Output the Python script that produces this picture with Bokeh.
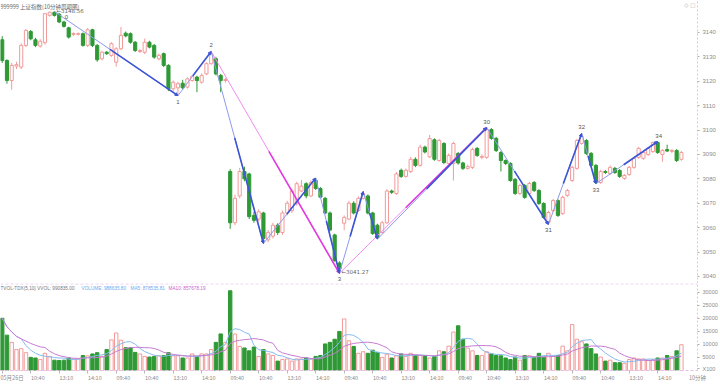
import numpy as np
import pandas as pd
from bokeh.plotting import figure
from bokeh.layouts import column
from bokeh.models import Range1d, FixedTicker, Label, Span, ColumnDataSource, Arrow, NormalHead
from bokeh.embed import file_html
from bokeh.resources import INLINE
from bokeh.core.properties import value

# ---------------- data (10-minute bars, 上证指数) ----------------
open_ = [3137.0, 3128.5, 3120.3, 3126.2, 3125.8, 3134.7, 3140.4, 3137.0, 3134.4, 3135.8,
         3147.0, 3148.3, 3147.5, 3144.3, 3141.9, 3139.2, 3139.2, 3139.5, 3134.7, 3141.1,
         3134.7, 3129.2, 3131.9, 3130.6, 3127.8, 3133.3, 3139.7, 3139.5, 3136.0, 3132.2,
         3131.9, 3136.0, 3134.7, 3129.2, 3131.3, 3126.5, 3116.9, 3117.3, 3119.2, 3117.6,
         3120.3, 3121.7, 3119.6, 3123.0, 3127.2, 3129.2, 3122.4, 3120.3, 3083.0, 3062.0,
         3073.0, 3083.0, 3082.0, 3065.0, 3063.5, 3066.0, 3055.0, 3056.5, 3061.0, 3058.0,
         3066.0, 3067.0, 3070.0, 3075.0, 3078.0, 3073.0, 3079.4, 3076.0, 3072.0, 3066.0,
         3057.0, 3045.5, 3061.8, 3063.5, 3070.0, 3067.0, 3072.0, 3073.0, 3066.0, 3061.0,
         3058.0, 3062.0, 3075.0, 3074.0, 3083.5, 3081.0, 3083.0, 3088.0, 3085.5, 3093.0,
         3089.0, 3096.0, 3087.5, 3094.5, 3086.3, 3086.3, 3090.4, 3086.5, 3084.3, 3084.7,
         3092.5, 3088.8, 3088.8, 3100.2, 3096.6, 3090.8, 3087.5, 3086.3, 3079.8, 3074.0,
         3077.3, 3074.0, 3078.5, 3075.2, 3069.9, 3062.1, 3067.0, 3071.1, 3065.8, 3073.2,
         3079.3, 3084.3, 3094.5, 3095.7, 3090.4, 3085.5, 3078.5, 3083.0, 3082.2, 3084.3,
         3083.4, 3080.2, 3081.8, 3084.7, 3088.8, 3088.4, 3090.0, 3091.2, 3094.9, 3090.0,
         3092.0, 3091.2, 3091.6, 3088.0]
close = [3128.5, 3120.3, 3126.5, 3126.8, 3134.7, 3140.8, 3137.4, 3134.7, 3136.4, 3147.7,
         3148.3, 3147.0, 3144.3, 3142.5, 3138.1, 3139.6, 3139.5, 3134.7, 3141.1, 3134.7,
         3128.8, 3131.9, 3131.3, 3135.4, 3133.3, 3138.8, 3138.6, 3136.0, 3132.6, 3132.6,
         3136.0, 3134.0, 3129.9, 3130.6, 3126.5, 3116.9, 3119.6, 3119.0, 3117.3, 3121.0,
         3122.0, 3120.3, 3122.4, 3127.2, 3131.3, 3123.0, 3120.3, 3120.7, 3062.0, 3072.0,
         3083.0, 3080.0, 3064.5, 3063.0, 3066.5, 3055.5, 3058.0, 3061.0, 3058.0, 3066.0,
         3070.0, 3075.0, 3078.0, 3077.0, 3073.0, 3078.5, 3076.0, 3072.5, 3066.0, 3059.0,
         3046.5, 3043.0, 3064.2, 3070.0, 3066.0, 3072.0, 3074.0, 3066.0, 3057.6, 3056.0,
         3062.0, 3075.0, 3074.5, 3082.0, 3081.0, 3083.5, 3088.0, 3085.5, 3093.0, 3091.0,
         3096.5, 3088.0, 3095.7, 3086.7, 3089.6, 3094.5, 3086.5, 3084.3, 3085.1, 3092.0,
         3089.6, 3089.2, 3100.2, 3096.6, 3091.6, 3087.5, 3086.3, 3079.3, 3074.0, 3077.3,
         3072.4, 3078.1, 3075.2, 3069.9, 3064.2, 3066.2, 3071.1, 3065.0, 3072.4, 3075.2,
         3084.7, 3095.7, 3097.4, 3090.4, 3085.5, 3078.5, 3083.0, 3082.6, 3084.7, 3082.6,
         3081.0, 3081.4, 3084.7, 3088.4, 3092.5, 3090.8, 3092.5, 3094.9, 3090.8, 3091.6,
         3091.4, 3091.6, 3087.5, 3090.8]
high = [3138.5, 3129.0, 3127.5, 3128.0, 3135.5, 3141.5, 3141.0, 3137.8, 3137.2, 3148.0,
        3148.5, 3148.56, 3148.0, 3144.8, 3142.3, 3140.0, 3140.0, 3140.0, 3141.8, 3141.5,
        3135.2, 3132.5, 3132.4, 3136.0, 3134.0, 3142.2, 3140.4, 3140.0, 3136.5, 3133.2,
        3137.5, 3136.6, 3135.3, 3131.4, 3131.8, 3127.0, 3120.3, 3119.8, 3120.6, 3121.6,
        3122.6, 3122.3, 3123.2, 3127.8, 3132.2, 3130.0, 3123.0, 3121.4, 3084.0, 3073.5,
        3084.5, 3085.0, 3082.5, 3066.5, 3067.5, 3066.5, 3059.0, 3062.0, 3061.8, 3067.0,
        3071.0, 3076.0, 3078.8, 3079.5, 3078.6, 3079.4, 3080.3, 3076.6, 3072.6, 3066.6,
        3057.5, 3046.2, 3065.0, 3071.0, 3070.8, 3072.8, 3074.8, 3073.6, 3066.5, 3061.6,
        3062.8, 3075.8, 3075.6, 3082.8, 3084.2, 3084.2, 3089.0, 3088.8, 3094.0, 3093.6,
        3098.0, 3096.6, 3096.4, 3095.0, 3090.4, 3095.2, 3091.0, 3087.0, 3085.8, 3092.8,
        3093.0, 3090.0, 3101.0, 3100.8, 3097.2, 3091.4, 3088.0, 3086.8, 3080.3, 3078.0,
        3077.9, 3078.8, 3079.1, 3075.8, 3070.4, 3066.9, 3071.8, 3071.7, 3073.1, 3075.9,
        3085.4, 3096.4, 3098.6, 3096.3, 3091.0, 3086.1, 3083.7, 3083.6, 3085.5, 3084.9,
        3084.0, 3082.0, 3085.3, 3089.0, 3093.1, 3091.4, 3093.1, 3095.3, 3095.3, 3092.2,
        3094.0, 3092.2, 3092.2, 3091.4]
low = [3127.5, 3119.0, 3116.5, 3125.0, 3125.0, 3134.0, 3136.8, 3134.0, 3133.8, 3135.0,
       3146.5, 3146.5, 3143.8, 3142.0, 3137.5, 3138.6, 3138.8, 3134.2, 3134.0, 3134.0,
       3128.0, 3128.5, 3130.8, 3130.0, 3126.0, 3132.8, 3138.0, 3135.4, 3132.0, 3131.6,
       3131.2, 3133.5, 3129.2, 3128.6, 3125.8, 3116.0, 3115.5, 3114.1, 3116.6, 3117.0,
       3119.8, 3115.5, 3119.0, 3122.5, 3126.8, 3122.4, 3115.5, 3119.4, 3059.5, 3061.0,
       3072.0, 3079.0, 3063.5, 3062.0, 3062.5, 3053.5, 3054.0, 3055.5, 3057.0, 3057.0,
       3065.0, 3066.0, 3069.0, 3074.5, 3072.0, 3072.5, 3075.5, 3072.0, 3065.5, 3058.5,
       3046.0, 3041.27, 3059.0, 3063.0, 3065.4, 3066.4, 3071.5, 3065.4, 3057.0, 3055.3,
       3057.5, 3061.4, 3073.8, 3073.4, 3080.4, 3080.5, 3082.4, 3084.8, 3085.0, 3090.4,
       3088.5, 3087.4, 3087.0, 3086.0, 3085.8, 3079.3, 3085.8, 3083.6, 3083.8, 3084.0,
       3089.0, 3088.0, 3088.2, 3096.0, 3091.0, 3083.0, 3085.6, 3078.8, 3073.4, 3073.4,
       3071.8, 3073.4, 3074.6, 3069.3, 3063.6, 3061.3, 3066.4, 3064.4, 3065.2, 3072.6,
       3078.7, 3083.7, 3094.0, 3089.8, 3084.9, 3078.0, 3078.0, 3082.0, 3081.6, 3082.0,
       3080.4, 3079.6, 3081.2, 3084.1, 3088.2, 3087.8, 3089.4, 3090.6, 3090.2, 3087.0,
       3091.0, 3090.6, 3086.9, 3087.4]
# volume in units of 100 (axis "X100")
volume = [20050, 13570, 10800, 8030, 8400, 6840, 5040, 4800, 4200, 6600,
          5400, 3960, 3840, 3960, 4800, 4440, 4440, 5760, 5640, 6360,
          6840, 5400, 8040, 11760, 14400, 11640, 8760, 8760, 6960, 6360,
          5400, 5160, 5400, 5640, 5760, 6840, 5640, 5640, 4800, 4800,
          6360, 5400, 6360, 6360, 8040, 10800, 14040, 10800, 30600, 14000,
          9240, 8640, 7560, 9000, 5400, 8040, 6360, 5760, 3600, 4200,
          4440, 3600, 4440, 4440, 4800, 4440, 5400, 5760, 10200, 10800,
          12000, 15000, 19800, 11400, 9240, 6600, 7200, 6600, 7800, 6960,
          5040, 6240, 4800, 5640, 6360, 5400, 6600, 5760, 5760, 5760,
          4800, 5400, 7560, 7200, 9360, 14760, 17160, 12000, 8640, 7560,
          5760, 5760, 7200, 6360, 5760, 5640, 4800, 4200, 5160, 3960,
          5760, 5640, 5160, 6600, 5160, 6600, 5400, 5760, 9360, 7560,
          17640, 12000, 11040, 10200, 8400, 6360, 5160, 3600, 3960, 3000,
          3000, 2760, 4200, 4800, 4440, 4440, 3960, 4200, 4800, 4800,
          5760, 5400, 7560, 9886]

tick_pos = [0, 6, 12, 18, 24, 30, 36, 42, 48, 54, 60, 66, 72, 78, 84, 90,
            96, 102, 108, 114, 120, 126, 132, 138]
tick_labels = ["05月26日", "10:40", "13:10", "14:10", "09:40", "10:40", "13:10", "14:10",
               "09:40", "10:40", "13:10", "14:10", "09:40", "10:40", "13:10", "14:10",
               "09:40", "10:40", "13:10", "14:10", "09:40", "10:40", "13:10", "14:10"]
price_ticks = [3040, 3050, 3060, 3070, 3080, 3090, 3100, 3110, 3120, 3130, 3140]
vol_ticks = [700, 5000, 10000, 15000, 20000, 25000, 30000]
vol_tick_labels = ["X100", "5000", "10000", "15000", "20000", "25000", "30000"]

# zigzag (wave) turning points
zz_index = [11, 37, 44, 55, 66, 71, 76, 79, 102, 115, 122, 125, 138]
zz_price = [3148.56, 3114.1, 3132.2, 3053.5, 3080.3, 3041.27, 3074.8, 3055.3,
            3101.0, 3061.3, 3098.6, 3078.0, 3095.3]
wave_names = ["0", "1", "2", "3", "30", "31", "32", "33", "34"]
wave_at = [0, 1, 2, 5, 8, 9, 10, 11, 12]
magenta_pairs = [(2, 5), (5, 8)]
price_tag_at = [0, 5]

title_text = "999999 上证指数(10分钟周期图)"
vol_title = ["TVOL-TDX(5,10) VVOL: 990835.00", "VOLUME: 988635.80", "MA5: 878535.81", "MA10: 857678.19"]
period_text = "10分钟"

# ---------------- styling ----------------
PINK = "#f39a9a"
GREEN = "#2e9935"
AXIS_TXT = "#8c8c8c"
NUM_FONT = "Liberation Sans"
CJK_FONT = "Noto Sans CJK SC"

N = len(open_)
idx = np.arange(N)
o = np.array(open_); c = np.array(close); h = np.array(high); l = np.array(low)
v = np.array(volume, dtype=float)
up = c >= o

def cds(mask):
    return ColumnDataSource(dict(x=idx[mask], top=np.maximum(o, c)[mask], bottom=np.minimum(o, c)[mask],
                                 high=h[mask], low=l[mask], vol=v[mask]))

src_up = cds(up)
src_dn = cds(~up)

X_END = 146.39
x_range = Range1d(-0.36, X_END)

# ---------------- price panel ----------------
p1 = figure(width=720, height=283, x_range=x_range, y_range=Range1d(3037.1, 3153.1),
            output_backend="svg", toolbar_location=None, x_axis_location=None,
            y_axis_location="right", min_border_left=0, min_border_right=20,
            min_border_top=0, min_border_bottom=0)
p1.grid.visible = False
p1.outline_line_color = None
p1.background_fill_color = "white"
p1.border_fill_color = "white"

ya = p1.yaxis[0]
ya.ticker = FixedTicker(ticks=price_ticks)
ya.major_label_text_font_size = "6px"
ya.major_label_text_font = NUM_FONT
ya.major_label_text_color = AXIS_TXT
ya.axis_line_color = "#d6c9de"
ya.axis_line_dash = "2 2"
ya.major_tick_out = 2
ya.major_tick_in = 0
ya.major_tick_line_color = "#b0b0b0"
ya.minor_tick_line_color = None
ya.major_label_standoff = 3

p1.segment(x0="x", y0="high", x1="x", y1="low", source=src_dn, line_color=GREEN, line_width=1)
p1.vbar(x="x", top="top", bottom="bottom", width=0.66, source=src_dn,
        fill_color=GREEN, line_color=GREEN, line_width=1)
p1.segment(x0="x", y0="high", x1="x", y1="low", source=src_up, line_color=PINK, line_width=1)
p1.vbar(x="x", top="top", bottom="bottom", width=0.66, source=src_up,
        fill_color="white", line_color=PINK, line_width=1)

def wave_segment(fig, a, b, thin_col, thick_col):
    x0, y0, x1, y1 = zz_index[a], zz_price[a], zz_index[b], zz_price[b]
    fig.line([x0, x1], [y0, y1], line_color=thin_col, line_width=1)
    xm = x0 + 0.45 * (x1 - x0)
    ym = y0 + 0.45 * (y1 - y0)
    fig.add_layout(Arrow(end=NormalHead(size=3, line_color=thick_col, fill_color=thick_col),
                         x_start=xm, y_start=ym, x_end=x1, y_end=y1,
                         line_color=thick_col, line_width=1.6))

for a, b in magenta_pairs:
    wave_segment(p1, a, b, "#f08cf0", "#e03ae0")
for k in range(len(zz_index) - 1):
    wave_segment(p1, k, k + 1, "#8b9bea", "#3c55d4")

offsets = [(12, 5), (0, 6), (0, -6), (0, 6), (0, -6), (0, 6), (0, -6), (0, 6), (1, -6)]
for name, at, (dx, dy) in zip(wave_names, wave_at, offsets):
    p1.text(x=[zz_index[at]], y=[zz_price[at]], text=[name], x_offset=dx, y_offset=dy,
            text_align="center", text_baseline="middle", text_font_size="6px",
            text_font=value(NUM_FONT), text_color="#555555")
for at in price_tag_at:
    p1.text(x=[zz_index[at]], y=[zz_price[at]], text=["←%.2f" % zz_price[at]],
            x_offset=2, y_offset=-1, text_align="left", text_baseline="middle",
            text_font_size="5.5px", text_font=value("DejaVu Sans"), text_color="#666666")

p1.add_layout(Label(x=-0.36, y=3153.1, text=title_text, text_baseline="top", y_offset=-2,
                    text_font=CJK_FONT, text_font_size="5.5px", text_color="#666666"))
p1.add_layout(Label(x=X_END, y=3153.1, text="◇ □", text_baseline="top", text_align="right",
                    x_offset=-2, y_offset=-1, text_font="DejaVu Sans", text_font_size="5.5px",
                    text_color="#aaaaaa"))

# ---------------- volume panel ----------------
p2 = figure(width=720, height=101, x_range=x_range, y_range=Range1d(0, 33400),
            output_backend="svg", toolbar_location=None, y_axis_location="right",
            min_border_left=0, min_border_right=20, min_border_top=0, min_border_bottom=0)
p2.grid.visible = False
p2.outline_line_color = None
p2.background_fill_color = "white"
p2.border_fill_color = "white"

p2.vbar(x="x", top="vol", bottom=0, width=0.72, source=src_dn,
        fill_color=GREEN, line_color=GREEN, line_width=1)
p2.vbar(x="x", top="vol", bottom=0, width=0.72, source=src_up,
        fill_color="white", line_color=PINK, line_width=1)

ma5 = pd.Series(v).rolling(5, min_periods=1).mean().to_numpy()
ma10 = pd.Series(v).rolling(10, min_periods=1).mean().to_numpy()
p2.line(idx, ma5, line_color="#86bbef", line_width=1)
p2.line(idx, ma10, line_color="#c77bd3", line_width=1)

p2.add_layout(Span(location=33250, dimension="width", line_color="#e4c2ea",
                   line_dash="3 2", line_width=1))

va = p2.yaxis[0]
va.ticker = FixedTicker(ticks=vol_ticks)
va.major_label_overrides = {t: s for t, s in zip(vol_ticks, vol_tick_labels)}
va.major_label_text_font_size = "5.5px"
va.major_label_text_font = NUM_FONT
va.major_label_text_color = AXIS_TXT
va.axis_line_color = "#d6c9de"
va.axis_line_dash = "2 2"
va.major_tick_out = 2
va.major_tick_in = 0
va.major_tick_line_color = "#b0b0b0"
va.minor_tick_line_color = None
va.major_label_standoff = 3

xa = p2.xaxis[0]
label_ticks = [tick_pos[0] + 2.0] + [t + 1.5 for t in tick_pos[1:]] + [X_END]
all_labels = tick_labels + [period_text]
xa.ticker = FixedTicker(ticks=label_ticks, minor_ticks=tick_pos)
xa.major_label_overrides = {t: s for t, s in zip(label_ticks, all_labels)}
xa.major_label_text_font_size = "5.5px"
xa.major_label_text_font = CJK_FONT
xa.major_label_text_color = AXIS_TXT
xa.major_tick_out = 0
xa.major_tick_in = 0
xa.minor_tick_out = 3
xa.minor_tick_in = 0
xa.minor_tick_line_color = "#b8b8b8"
xa.axis_line_color = "#e2c0e6"
xa.axis_line_dash = "3 2"
xa.major_label_standoff = 0

x0 = -0.36
offs = [0, 81, 130, 168]
cols = ["#777777", "#6aaaf0", "#6aaaf0", "#c45fce"]
for txt, dx, col in zip(vol_title, offs, cols):
    p2.add_layout(Label(x=x0, y=33250, text=txt, x_offset=dx, y_offset=-2, text_baseline="top",
                        text_font=NUM_FONT, text_font_size="4.7px", text_color=col))

layout = column(p1, p2, spacing=0)
open("out.html", "w").write(file_html(layout, INLINE))
